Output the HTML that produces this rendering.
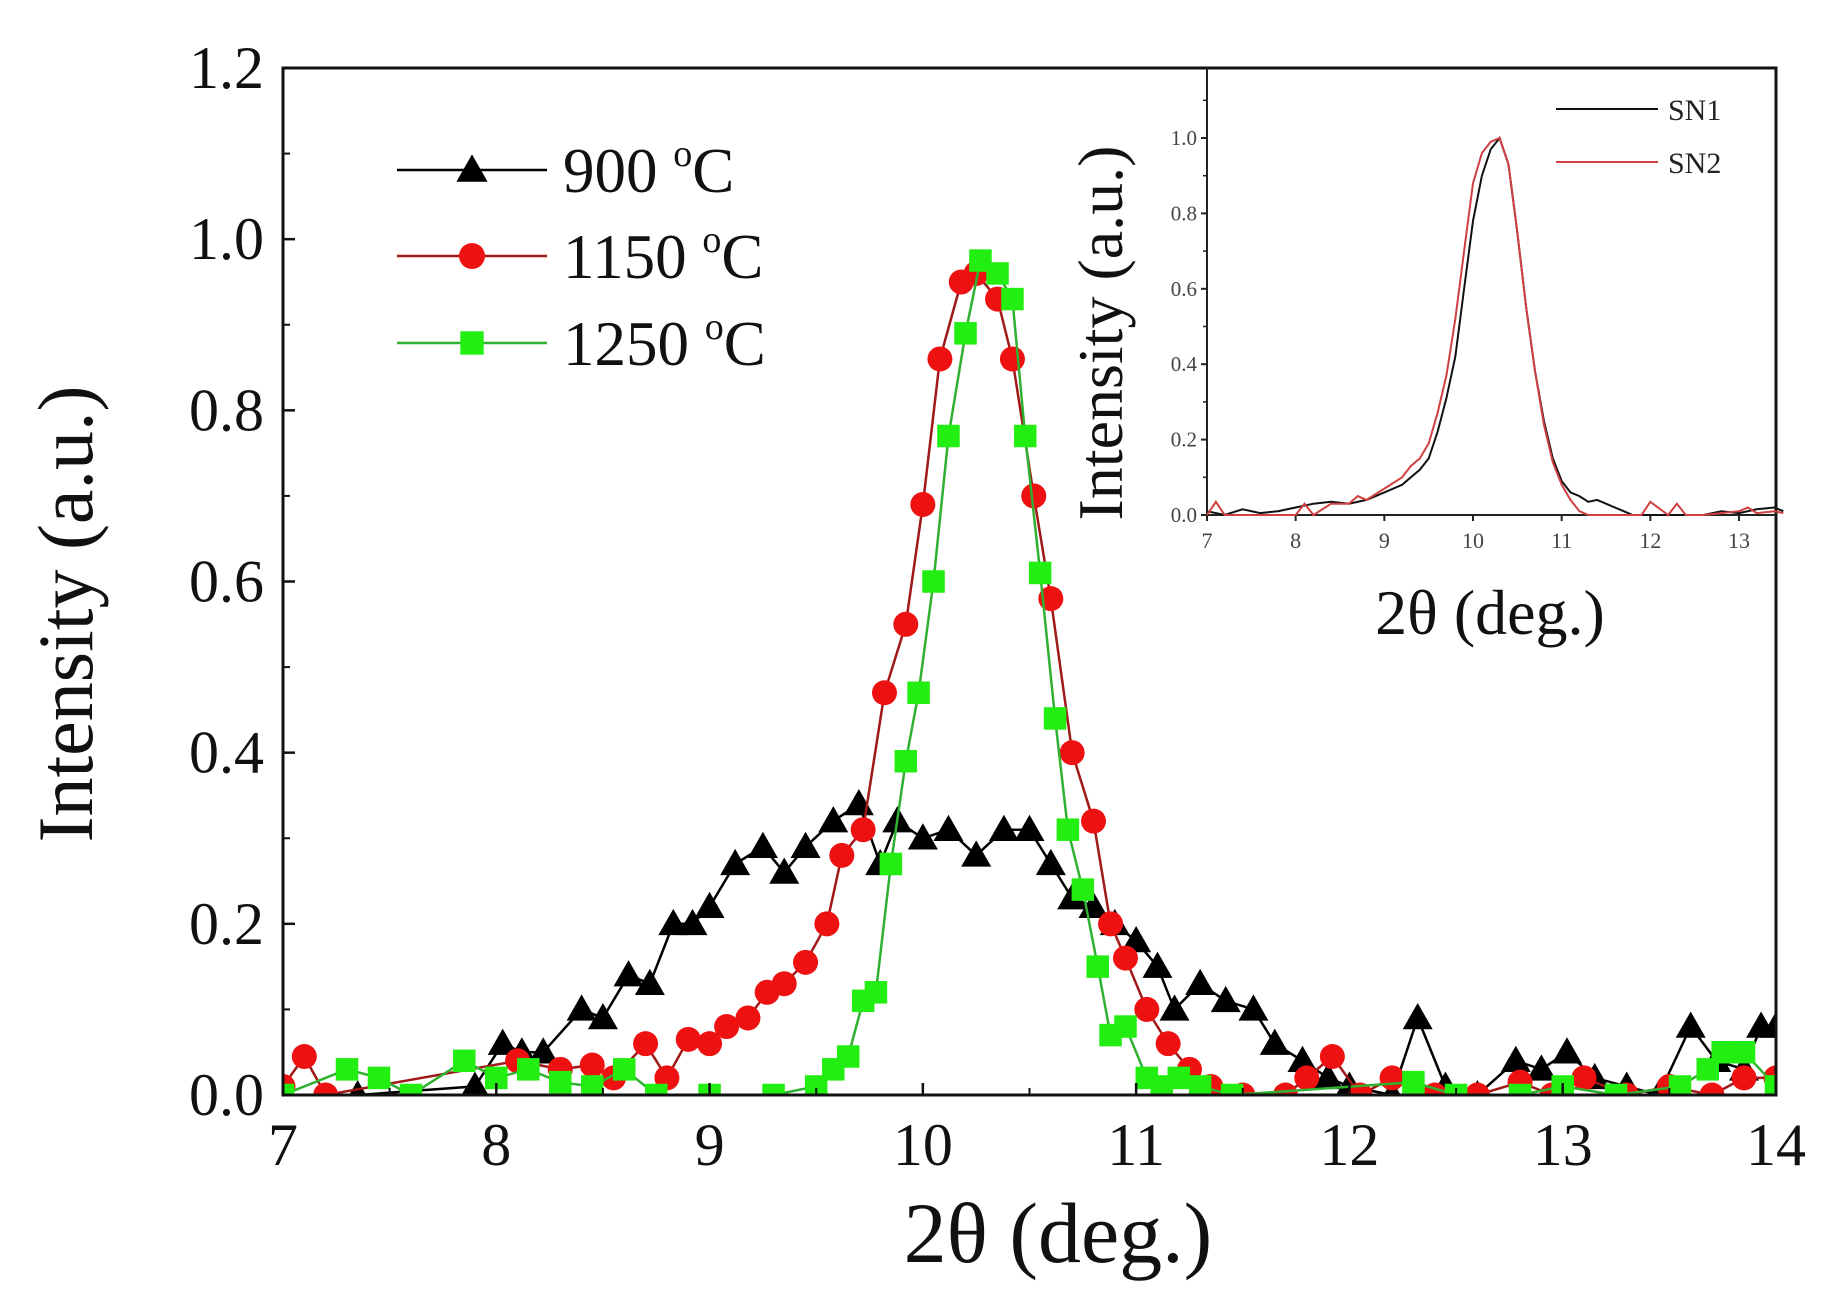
<!DOCTYPE html>
<html><head><meta charset="utf-8"><style>
html,body{margin:0;padding:0;background:#fff;}
svg{display:block;font-family:"Liberation Serif",serif;}
</style></head><body>
<svg id="chart" width="1831" height="1306" viewBox="0 0 1831 1306">
<g id="main"></g>
<g id="inset"></g>
</svg>
<script>
// ---- main chart data ----
const xTicks = [7,8,9,10,11,12,13,14];
const yTicks = [0.0,0.2,0.4,0.6,0.8,1.0,1.2];
const s900x = [7.0,7.35,7.9,8.03,8.12,8.22,8.4,8.5,8.62,8.72,8.83,8.92,9.0,9.12,9.25,9.35,9.45,9.58,9.7,9.8,9.88,10.0,10.12,10.25,10.38,10.5,10.6,10.7,10.8,10.9,11.0,11.1,11.18,11.3,11.42,11.55,11.65,11.78,11.9,12.0,12.2,12.32,12.45,12.6,12.78,12.9,13.02,13.15,13.3,13.45,13.6,13.72,13.85,13.93,14.0];
const s900y = [0.0,0.0,0.01,0.06,0.05,0.05,0.10,0.09,0.14,0.13,0.20,0.20,0.22,0.27,0.29,0.26,0.29,0.32,0.34,0.27,0.32,0.30,0.31,0.28,0.31,0.31,0.27,0.23,0.22,0.20,0.18,0.15,0.10,0.13,0.11,0.10,0.06,0.04,0.02,0.01,0.0,0.09,0.01,0.0,0.04,0.03,0.05,0.02,0.01,0.0,0.08,0.04,0.03,0.08,0.08];
const s1150x = [7.0,7.1,7.2,8.1,8.3,8.45,8.55,8.7,8.8,8.9,9.0,9.08,9.18,9.27,9.35,9.45,9.55,9.62,9.72,9.82,9.92,10.0,10.08,10.18,10.25,10.35,10.42,10.52,10.6,10.7,10.8,10.88,10.95,11.05,11.15,11.25,11.35,11.5,11.7,11.8,11.92,12.05,12.2,12.4,12.6,12.8,12.95,13.1,13.3,13.5,13.7,13.85,14.0];
const s1150y = [0.01,0.045,0.0,0.04,0.03,0.035,0.02,0.06,0.02,0.065,0.06,0.08,0.09,0.12,0.13,0.155,0.2,0.28,0.31,0.47,0.55,0.69,0.86,0.95,0.96,0.93,0.86,0.70,0.58,0.40,0.32,0.20,0.16,0.10,0.06,0.03,0.01,0.0,0.0,0.02,0.045,0.0,0.02,0.0,0.0,0.015,0.0,0.02,0.0,0.01,0.0,0.02,0.02];
const s1250x = [7.0,7.3,7.45,7.6,7.85,8.0,8.15,8.3,8.45,8.6,8.75,9.0,9.3,9.5,9.58,9.65,9.72,9.78,9.85,9.92,9.98,10.05,10.12,10.2,10.27,10.35,10.42,10.48,10.55,10.62,10.68,10.75,10.82,10.88,10.95,11.05,11.12,11.2,11.3,11.45,12.3,12.5,12.8,13.0,13.25,13.55,13.68,13.75,13.85,14.0];
const s1250y = [0.0,0.03,0.02,0.0,0.04,0.02,0.03,0.015,0.01,0.03,0.0,0.0,0.0,0.01,0.03,0.045,0.11,0.12,0.27,0.39,0.47,0.60,0.77,0.89,0.975,0.96,0.93,0.77,0.61,0.44,0.31,0.24,0.15,0.07,0.08,0.02,0.01,0.02,0.01,0.0,0.015,0.0,0.0,0.01,0.0,0.01,0.03,0.05,0.05,0.01];
// ---- inset data ----
const insetXTicks = [7,8,9,10,11,12,13];
const insetYTicks = [0.0,0.2,0.4,0.6,0.8,1.0];
const sn1x = [7.0,7.2,7.4,7.6,7.8,8.0,8.2,8.4,8.6,8.8,9.0,9.2,9.3,9.4,9.5,9.6,9.7,9.8,9.9,10.0,10.1,10.2,10.3,10.4,10.5,10.6,10.7,10.8,10.9,11.0,11.1,11.2,11.3,11.4,11.5,11.6,11.7,11.8,12.0,12.2,12.4,12.6,12.8,13.0,13.2,13.4,13.5];
const sn1y = [0.01,0.0,0.015,0.005,0.01,0.02,0.03,0.035,0.03,0.04,0.06,0.08,0.1,0.12,0.15,0.22,0.31,0.42,0.6,0.78,0.9,0.97,1.0,0.93,0.75,0.55,0.38,0.25,0.15,0.09,0.06,0.05,0.035,0.04,0.03,0.02,0.01,0.0,0.0,0.0,0.0,0.0,0.01,0.005,0.015,0.02,0.01];
const sn2x = [7.0,7.1,7.2,7.4,7.6,7.8,8.0,8.1,8.2,8.4,8.6,8.7,8.8,9.0,9.2,9.3,9.4,9.5,9.6,9.7,9.8,9.9,10.0,10.1,10.2,10.3,10.4,10.5,10.6,10.7,10.8,10.9,11.0,11.1,11.2,11.3,11.4,11.6,11.9,12.0,12.2,12.3,12.4,12.6,12.8,13.0,13.1,13.2,13.4,13.5];
const sn2y = [0.0,0.035,0.0,0.0,0.0,0.0,0.0,0.03,0.0,0.03,0.03,0.05,0.04,0.07,0.1,0.13,0.15,0.19,0.27,0.37,0.52,0.7,0.88,0.96,0.99,1.0,0.93,0.75,0.55,0.38,0.24,0.14,0.08,0.04,0.01,0.0,0.0,0.0,0.0,0.035,0.0,0.03,0.0,0.0,0.005,0.01,0.02,0.005,0.01,0.005];

const NS = "http://www.w3.org/2000/svg";
function mk(tag, attrs, parent, text){
  const e = document.createElementNS(NS, tag);
  for (const k in attrs) e.setAttribute(k, attrs[k]);
  if (text !== undefined) e.textContent = text;
  parent.appendChild(e); return e;
}
const L=283,R=1776,T=68,B=1095;
const sx = v => L + (v-7)/(14-7)*(R-L);
const sy = v => B - v/1.2*(B-T);
const main = document.getElementById('main');

function seriesPath(xs, ys, fx, fy){ return xs.map((x,i)=>(i?'L':'M')+fx(x).toFixed(1)+','+fy(ys[i]).toFixed(1)).join(' '); }

function drawMarker(type, cx, cy, color, parent, size){
  let m;
  if (type==='tri'){
    const h=size;
    m = mk('polygon',{points:`${cx},${cy-h*0.6} ${cx-h*0.6},${cy+h*0.45} ${cx+h*0.6},${cy+h*0.45}`, fill:color}, parent);
  } else if (type==='circ'){
    m = mk('circle',{cx:cx,cy:cy,r:size*0.5,fill:color}, parent);
  } else {
    m = mk('rect',{x:cx-size*0.45,y:cy-size*0.45,width:size*0.9,height:size*0.9,fill:color}, parent);
  }
  return m;
}

const series = [
  {xs:s900x, ys:s900y, color:'#000', line:'#000', type:'tri', name:'series-900c'},
  {xs:s1150x, ys:s1150y, color:'#ee1111', line:'#a01818', type:'circ', name:'series-1150c'},
  {xs:s1250x, ys:s1250y, color:'#22ee11', line:'#30b030', type:'sq', name:'series-1250c'}
];
const clip = mk('clipPath',{id:'mainclip'}, main);
mk('rect',{x:L,y:T-20,width:R-L,height:B-T+20}, clip);
const plotG = mk('g',{'clip-path':'url(#mainclip)'}, main);


series.forEach(s=>{
  const g = mk('g',{}, plotG);
  
  
  const p = mk('path',{d:seriesPath(s.xs,s.ys,sx,sy),fill:'none',stroke:s.line,'stroke-width':2.5}, g);
  
  
  s.xs.forEach((x,i)=>{
    const m = drawMarker(s.type, sx(x), sy(s.ys[i]), s.color, g, 25);
    
    
  });
});
const frame = mk('rect',{x:L,y:T,width:R-L,height:B-T,fill:'none',stroke:'#111','stroke-width':3}, main);


xTicks.forEach(v=>{
  const x=sx(v);
  const t = mk('line',{x1:x,y1:B,x2:x,y2:B-12,stroke:'#111','stroke-width':2.5}, main);
  
  
  const lb = mk('text',{x:x,y:1165,'text-anchor':'middle','font-size':60,fill:'#111'}, main, String(v));
  
  
  if (v<14){ const mx=sx(v+0.5); mk('line',{x1:mx,y1:B,x2:mx,y2:B-7,stroke:'#111','stroke-width':2}, main); }
});
yTicks.forEach(v=>{
  const y=sy(v);
  const t = mk('line',{x1:L,y1:y,x2:L+12,y2:y,stroke:'#111','stroke-width':2.5}, main);
  
  
  const lb = mk('text',{x:264,y:y+20,'text-anchor':'end','font-size':60,fill:'#111'}, main, v.toFixed(1));
  
  
  if (v<1.2){ const my=sy(v+0.1); mk('line',{x1:L,y1:my,x2:L+7,y2:my,stroke:'#111','stroke-width':2}, main); }
});
const xt = mk('text',{x:1058,y:1262,'text-anchor':'middle','font-size':86,fill:'#111'}, main, '2θ (deg.)');


const yt = mk('text',{x:0,y:0,'text-anchor':'middle','font-size':78,fill:'#111',transform:'translate(92,614) rotate(-90)'}, main, 'Intensity (a.u.)');


const legLabels = ['900 ', '1150 ', '1250 '];
const legY = [170,256,343];
series.forEach((s,i)=>{
  const g = mk('g',{}, main);
  
  
  mk('line',{x1:397,y1:legY[i],x2:547,y2:legY[i],stroke:s.line,'stroke-width':2.5}, g);
  drawMarker(s.type, 472, legY[i], s.color, g, 26);
  const tx = mk('text',{x:563,y:legY[i]+22,'font-size':63,fill:'#111'}, g);
  tx.appendChild(document.createTextNode(legLabels[i]));
  mk('tspan',{'font-size':38,dy:-26}, tx, 'o');
  mk('tspan',{dy:26}, tx, 'C');
});

// ---- inset ----
const inset = document.getElementById('inset');
const iL=1207,iR=1776,iT=68,iB=515;
const ix = v => iL + (v-7)/(13-7)*(1739-iL);
const iy = v => iB - v*377;
mk('line',{x1:iL,y1:iT,x2:iL,y2:iB,stroke:'#222','stroke-width':2}, inset);
mk('line',{x1:iL,y1:iB,x2:iR,y2:iB,stroke:'#222','stroke-width':2}, inset);
insetXTicks.forEach(v=>{
  const x=ix(v);
  mk('line',{x1:x,y1:iB,x2:x,y2:iB+6,stroke:'#222','stroke-width':2}, inset);
  const lb = mk('text',{x:x,y:548,'text-anchor':'middle','font-size':22,fill:'#444'}, inset, String(v));
  
  
});
insetYTicks.forEach(v=>{
  const y=iy(v);
  mk('line',{x1:iL,y1:y,x2:iL-6,y2:y,stroke:'#222','stroke-width':2}, inset);
  mk('line',{x1:iL,y1:iy(v+0.1),x2:iL-4,y2:iy(v+0.1),stroke:'#222','stroke-width':1.5}, inset);
  const lb = mk('text',{x:iL-10,y:y+7,'text-anchor':'end','font-size':21,fill:'#444'}, inset, v.toFixed(1));
  
  
});
const p1 = mk('path',{d:seriesPath(sn1x,sn1y,ix,iy),fill:'none',stroke:'#111','stroke-width':2}, inset);


const p2 = mk('path',{d:seriesPath(sn2x,sn2y,ix,iy),fill:'none',stroke:'#d04040','stroke-width':2}, inset);


const l1 = mk('g',{}, inset);


mk('line',{x1:1556,y1:109,x2:1658,y2:109,stroke:'#111','stroke-width':2}, l1);
mk('text',{x:1668,y:120,'font-size':30,fill:'#222'}, l1, 'SN1');
const l2 = mk('g',{}, inset);


mk('line',{x1:1556,y1:162,x2:1658,y2:162,stroke:'#d04040','stroke-width':2}, l2);
mk('text',{x:1668,y:173,'font-size':30,fill:'#222'}, l2, 'SN2');
const ixt = mk('text',{x:1490,y:634,'text-anchor':'middle','font-size':64,fill:'#111'}, inset, '2θ (deg.)');


const iyt = mk('text',{x:0,y:0,'text-anchor':'middle','font-size':64,fill:'#111',transform:'translate(1122,333) rotate(-90)'}, inset, 'Intensity (a.u.)');


</script>
</body></html>
